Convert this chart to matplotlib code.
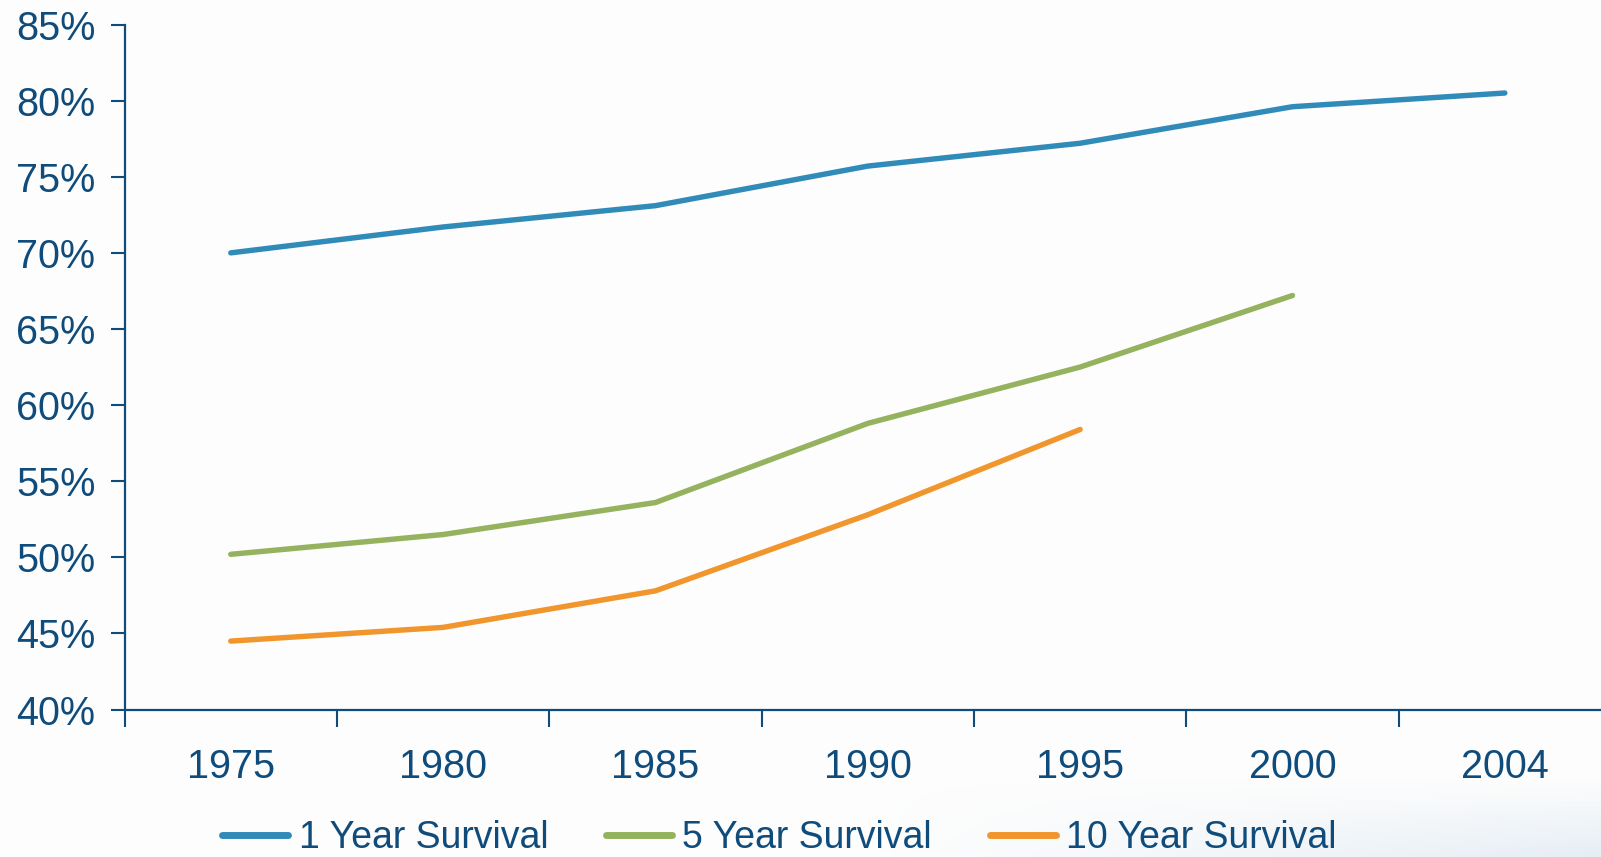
import numpy as np
import matplotlib
matplotlib.use("Agg")
import matplotlib.pyplot as plt
from matplotlib.ticker import FuncFormatter, FixedLocator

# Survival rates by year of diagnosis (%)
years = ["1975", "1980", "1985", "1990", "1995", "2000", "2004"]
one_year = [70.0, 71.7, 73.1, 75.7, 77.2, 79.6, 80.5]
five_year = [50.2, 51.5, 53.6, 58.8, 62.5, 67.2]
ten_year = [44.5, 45.4, 47.8, 52.8, 58.4]
series_labels = ["1 Year Survival", "5 Year Survival", "10 Year Survival"]
yticks = [40, 45, 50, 55, 60, 65, 70, 75, 80, 85]

text_color = "#0f4c7c"
colors = ["#318bb8", "#95b25e", "#f0962c"]

plt.rcParams["font.family"] = ["Liberation Sans", "DejaVu Sans"]

W, H, DPI = 1601, 857, 100
fig = plt.figure(figsize=(W / DPI, H / DPI), dpi=DPI)
fig.patch.set_facecolor("#fdfdfd")

# faint bluish haze in the lower right corner
bg = fig.add_axes([0, 0, 1, 1], zorder=-10)
gx, gy = np.meshgrid(np.linspace(0, 1, 400), np.linspace(0, 1, 200))
haze = np.clip((gx - 0.55) / 0.45, 0, 1) * np.clip((0.09 - gy) / 0.09, 0, 1)
img = np.ones((200, 400, 3))
tint = np.array([0.91, 0.94, 0.965])
img = img * (1 - haze[..., None]) + tint * haze[..., None]
img = img * 0.993
bg.imshow(img, origin="lower", extent=[0, 1, 0, 1], aspect="auto")
bg.set_axis_off()

left = 124.6 / W
right = 1611.0 / W
bottom = (H - 709.6) / H
top = (H - 24.5) / H
ax = fig.add_axes([left, bottom, right - left, top - bottom])
ax.set_facecolor("none")

x_all = np.arange(len(years))
for vals, c, lab in zip([one_year, five_year, ten_year], colors, series_labels):
    ax.plot(x_all[:len(vals)], vals, color=c, lw=3.9, label=lab,
            solid_capstyle="round", solid_joinstyle="round")

ax.set_xlim(-0.5, len(years) - 0.5)
ax.set_ylim(40, 85)
ax.yaxis.set_major_locator(FixedLocator(yticks))
ax.yaxis.set_major_formatter(FuncFormatter(lambda v, p: f"{v:.0f}%"))

ax.set_xticks(x_all)
ax.set_xticklabels(years)
ax.set_xticks(np.arange(-0.5, len(years), 1.0), minor=True)
ax.tick_params(axis="x", which="major", length=0, pad=28,
               labelsize=28.5, labelcolor=text_color)
ax.tick_params(axis="x", which="minor", length=12, width=1.5,
               color=text_color, direction="out")
ax.tick_params(axis="y", length=10, width=1.5, color=text_color,
               labelsize=28.5, labelcolor=text_color, pad=11)

for s in ["top", "right"]:
    ax.spines[s].set_visible(False)
for s in ["left", "bottom"]:
    ax.spines[s].set_color(text_color)
    ax.spines[s].set_linewidth(1.6)

leg = fig.legend(loc="center", bbox_to_anchor=(0.487, (H - 838) / H), ncol=3,
                 frameon=False, fontsize=27, handlelength=1.75,
                 handletextpad=0.28, columnspacing=1.55, borderpad=0)
for t in leg.get_texts():
    t.set_color(text_color)
for h in leg.get_lines():
    h.set_linewidth(5)
    h.set_solid_capstyle("round")

fig.savefig("out.png", dpi=DPI, facecolor=fig.get_facecolor())
